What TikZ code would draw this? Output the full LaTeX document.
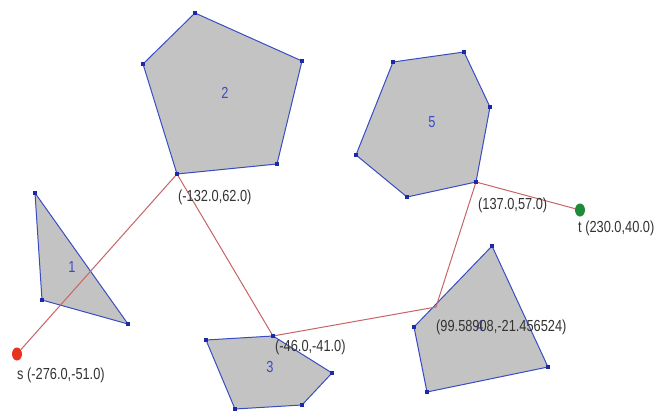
\documentclass[tikz,border=0pt]{standalone}
\usepackage{fontspec}
\setmainfont{Liberation Sans}
\newfontfamily\lblfont[FakeStretch=0.8]{Liberation Sans}
\usepackage{tikz}
\usetikzlibrary{positioning,shapes.geometric}
\definecolor{pgblue}{HTML}{3A4CC4}
\definecolor{pgdark}{HTML}{1A2AA8}
\definecolor{pggray}{HTML}{C3C3C3}
\definecolor{pgpath}{HTML}{C86466}
\definecolor{pgred}{HTML}{E8321E}
\definecolor{pggreen}{HTML}{1E8A3A}
\definecolor{pgtext}{HTML}{333333}
\tikzset{
  obst/.style={draw=pgblue, fill=pggray, line width=1pt, line join=round},
  vtx/.style={rectangle, fill=pgdark, minimum size=4.5pt, inner sep=0pt},
  route/.style={draw=pgpath, line width=1pt},
  endpt/.style={ellipse, minimum width=10pt, minimum height=13pt, inner sep=0pt},
  coordlbl/.style={font=\lblfont\fontsize{16}{16}\selectfont, text=pgtext,
                   inner sep=0pt, anchor=west},
  pid/.style={font=\lblfont\fontsize{16}{16}\selectfont, text=pgblue, inner sep=0pt},
}

\begin{document}
\begin{tikzpicture}[x=1pt,y=-1pt]
\useasboundingbox[fill=white] (0,0) rectangle (657,415);

% ---------- obstacle vertices ----------
\coordinate (a1) at (35,193);  \coordinate (a2) at (42,300);  \coordinate (a3) at (128,324);
\coordinate (b1) at (195,13);  \coordinate (b2) at (302,61);  \coordinate (b3) at (277,164);
\coordinate (b4) at (177,174); \coordinate (b5) at (143,64);
\coordinate (c1) at (206,340); \coordinate (c2) at (273,336); \coordinate (c3) at (332,373);
\coordinate (c4) at (302,405); \coordinate (c5) at (235,409);
\coordinate (d1) at (492,246); \coordinate (d2) at (548,367); \coordinate (d3) at (427,392);
\coordinate (d4) at (414,327);
\coordinate (e1) at (393,62);  \coordinate (e2) at (464,52);  \coordinate (e3) at (490,107);
\coordinate (e4) at (476,182); \coordinate (e5) at (407,197); \coordinate (e6) at (356,155);
\coordinate (x4) at (436,307);

% ---------- obstacles ----------
\draw[obst] (a1) -- (a2) -- (a3) -- cycle;
\draw[obst] (b1) -- (b2) -- (b3) -- (b4) -- (b5) -- cycle;
\draw[obst] (c1) -- (c2) -- (c3) -- (c4) -- (c5) -- cycle;
\draw[obst] (d1) -- (d2) -- (d3) -- (d4) -- cycle;
\draw[obst] (e1) -- (e2) -- (e3) -- (e4) -- (e5) -- (e6) -- cycle;

\node[pid] (n1) at (72,267) {1};
\node[pid] (n2) at (225,93) {2};
\node[pid] (n3) at (270,367) {3};
\node[pid] (n4) at (480,326) {4};
\node[pid] (n5) at (432,122) {5};

% ---------- start / target ----------
\node[endpt, fill=pgred] (s) at (17,354) {};
\node[endpt, fill=pggreen] (t) at (580,210) {};

% ---------- shortest path ----------
\draw[route] (s) -- (b4) -- (c2) -- (x4) -- (e4) -- (t);

\foreach \p in {a1,a2,a3,b1,b2,b3,b4,b5,c1,c2,c3,c4,c5,d1,d2,d3,d4,e1,e2,e3,e4,e5,e6}
  \node[vtx] (m-\p) at (\p) {};

% ---------- coordinates ----------
\node[coordlbl] (lb4) at (178,197) {(-132.0,62.0)};
\node[coordlbl] (le4) at (478,205) {(137.0,57.0)};
\node[coordlbl] (lt) at (578,228) {t (230.0,40.0)};
\node[coordlbl] (ls) at (17,375) {s (-276.0,-51.0)};
\node[coordlbl] (lc2) at (275,347) {(-46.0,-41.0)};
\node[coordlbl] (lx4) at (436,327) {(99.58908,-21.456524)};
\end{tikzpicture}
\end{document}
